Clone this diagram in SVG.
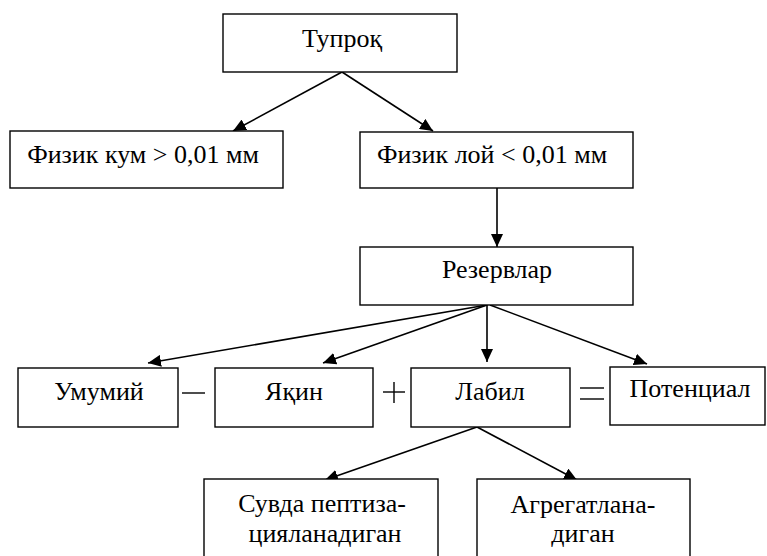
<svg xmlns="http://www.w3.org/2000/svg" width="767" height="556" viewBox="0 0 767 556">
<style>
.box{fill:#fff;stroke:#000;stroke-width:1.4}
.t{font-family:'Liberation Serif','DejaVu Serif',serif;font-size:26px;fill:#000;text-anchor:middle}
.c{stroke:#000;stroke-width:1.6;fill:none;marker-end:url(#ah)}
.op{stroke:#000;stroke-width:1.4;fill:none}
</style>
<defs>
<marker id="ah" markerUnits="userSpaceOnUse" markerWidth="14" markerHeight="12" refX="13" refY="6" orient="auto">
<path d="M0,0 L13,6 L0,12 Z" fill="#000"/>
</marker>
</defs>
<rect width="767" height="556" fill="#fff"/>
<g id="connectors">
<line class="c" x1="342" y1="72" x2="233" y2="131"/>
<line class="c" x1="342" y1="72" x2="433" y2="131"/>
<line class="c" x1="497" y1="188" x2="497" y2="247"/>
<line class="c" x1="487" y1="305" x2="148" y2="363"/>
<line class="c" x1="487" y1="305" x2="323" y2="363"/>
<line class="c" x1="487" y1="305" x2="487" y2="362"/>
<line class="c" x1="490" y1="305" x2="647" y2="364"/>
<line class="c" x1="477" y1="427" x2="325" y2="480"/>
<line class="c" x1="477" y1="427" x2="577" y2="480"/>
</g>
<g id="tuproq"><rect class="box" x="223" y="14" width="234" height="58"/><text class="t" x="342" y="47" font-family="Liberation Serif">Тупроқ</text></g>
<g id="fizik-kum"><rect class="box" x="10" y="131" width="273" height="57"/><text class="t" x="143" y="163">Физик кум &gt; 0,01 мм</text></g>
<g id="fizik-loy"><rect class="box" x="360" y="132" width="273" height="56"/><text class="t" x="492" y="163">Физик лой &lt; 0,01 мм</text></g>
<g id="rezervlar"><rect class="box" x="360" y="247" width="273" height="58"/><text class="t" x="497" y="278">Резервлар</text></g>
<g id="umumiy"><rect class="box" x="18" y="368" width="160" height="59"/><text class="t" x="99" y="400">Умумий</text></g>
<g id="yaqin"><rect class="box" x="215" y="368" width="158" height="59"/><text class="t" x="294" y="400">Яқин</text></g>
<g id="labil"><rect class="box" x="411" y="368" width="159" height="59"/><text class="t" x="490" y="400">Лабил</text></g>
<g id="potentsial"><rect class="box" x="610" y="367" width="155" height="58"/><text class="t" x="690" y="397">Потенциал</text></g>
<g id="suvda"><rect class="box" x="204" y="479" width="234" height="82"/><text class="t" x="322" y="512">Сувда пептиза-</text><text class="t" x="325" y="542">цияланадиган</text></g>
<g id="agregat"><rect class="box" x="477" y="479" width="213" height="82"/><text class="t" x="583" y="513">Агрегатлана-</text><text class="t" x="583" y="542">диган</text></g>
<g id="operators">
<line class="op" x1="182" y1="393" x2="205" y2="393"/>
<line class="op" x1="383" y1="392" x2="405" y2="392"/>
<line class="op" x1="394" y1="382" x2="394" y2="403"/>
<line class="op" x1="580" y1="388" x2="604" y2="388"/>
<line class="op" x1="580" y1="399" x2="604" y2="399"/>
</g>
</svg>
